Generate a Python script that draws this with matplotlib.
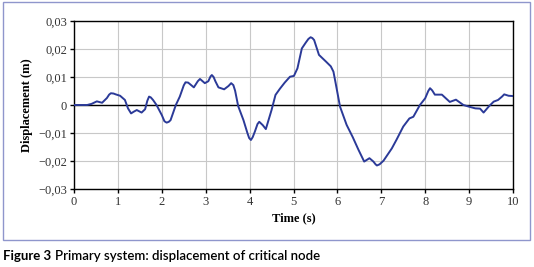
import matplotlib
matplotlib.use("Agg")
import matplotlib.pyplot as plt
from matplotlib.patches import Rectangle

# Data
time_s = [0.0, 0.15, 0.30, 0.40, 0.52, 0.64, 0.75, 0.80, 0.84, 0.90, 0.95, 1.05, 1.16, 1.23, 1.30,
          1.36, 1.43, 1.54, 1.62, 1.67, 1.71, 1.75, 1.80, 1.88, 2.00, 2.06, 2.11, 2.16, 2.20, 2.32,
          2.41, 2.50, 2.54, 2.60, 2.73, 2.82, 2.87, 2.98, 3.06, 3.11, 3.14, 3.18, 3.22, 3.29, 3.42,
          3.52, 3.58, 3.63, 3.67, 3.74, 3.86, 3.95, 3.99, 4.03, 4.07, 4.12, 4.18, 4.22, 4.30, 4.37,
          4.50, 4.59, 4.69, 4.80, 4.92, 5.01, 5.09, 5.19, 5.28, 5.34, 5.39, 5.43, 5.47, 5.58, 5.74,
          5.85, 5.91, 5.96, 6.06, 6.21, 6.35, 6.48, 6.61, 6.67, 6.73, 6.82, 6.87, 6.90, 6.96, 7.05,
          7.24, 7.35, 7.50, 7.64, 7.73, 7.88, 8.00, 8.07, 8.11, 8.16, 8.22, 8.38, 8.56, 8.70, 8.87,
          9.00, 9.14, 9.25, 9.33, 9.45, 9.56, 9.66, 9.75, 9.80, 9.90, 10.0]
displacement_m = [0.0, 0.0, 0.0, 0.0004, 0.0013, 0.0008, 0.0025, 0.0037, 0.0042, 0.0041, 0.0038, 0.0033, 0.0018, -0.0012, -0.0030,
                  -0.0024, -0.0018, -0.0027, -0.0015, 0.0015, 0.0030, 0.0027, 0.0018, 0.0, -0.0036, -0.0058, -0.0063, -0.0060, -0.0054, 0.0,
                  0.0030, 0.0070, 0.0081, 0.0080, 0.0063, 0.0085, 0.0093, 0.0078, 0.0085, 0.0102, 0.0107, 0.0100, 0.0085, 0.0063, 0.0056,
                  0.0068, 0.0078, 0.0071, 0.0051, -0.0004, -0.0054, -0.0100, -0.0118, -0.0125, -0.0115, -0.0095, -0.0068, -0.0060, -0.0072, -0.0086,
                  -0.0018, 0.0036, 0.0058, 0.0080, 0.0101, 0.0104, 0.0131, 0.0202, 0.0223, 0.0236, 0.0242, 0.0239, 0.0232, 0.0179, 0.0155,
                  0.0138, 0.0119, 0.0078, -0.0006, -0.0071, -0.0115, -0.0160, -0.0202, -0.0196, -0.0190, -0.0202, -0.0212, -0.0216, -0.0212, -0.0199,
                  -0.0155, -0.0123, -0.0077, -0.0048, -0.0042, 0.0, 0.0024, 0.0050, 0.0060, 0.0052, 0.0037, 0.0037, 0.0011, 0.0019, 0.0,
                  -0.0006, -0.0012, -0.0013, -0.0027, -0.0005, 0.0012, 0.0018, 0.0030, 0.0038, 0.0033, 0.0032]

x_ticks = [0, 1, 2, 3, 4, 5, 6, 7, 8, 9, 10]
y_ticks = [-0.03, -0.02, -0.01, 0.0, 0.01, 0.02, 0.03]
y_tick_labels = ["\u22120,03", "\u22120,02", "\u22120,01", "0", "0,01", "0,02", "0,03"]

W, H = 534, 267
fig = plt.figure(figsize=(W / 100, H / 100), dpi=100)
fig.patch.set_facecolor("white")

# outer frame
fig.add_artist(Rectangle((3 / W, 1 - 240 / H), (530 - 3) / W, (240 - 2) / H,
                         transform=fig.transFigure, fill=False,
                         edgecolor="#8f96cc", linewidth=1.0))

ax = fig.add_axes([74 / W, 1 - 189 / H, (513 - 74) / W, (189 - 21) / H])
ax.plot(time_s, displacement_m, color="#2b3a98", linewidth=1.4, zorder=3,
        solid_joinstyle="round")
ax.axhline(0, color="black", linewidth=1.0, zorder=2)

ax.set_xlim(0, 10)
ax.set_ylim(-0.03, 0.03)
ax.set_xticks(x_ticks)
ax.set_xticklabels([str(v) for v in x_ticks])
ax.set_yticks(y_ticks)
ax.set_yticklabels(y_tick_labels)
ax.grid(True, color="#c8c8c8", linewidth=0.8, zorder=0)
ax.set_axisbelow(True)

for s in ax.spines.values():
    s.set_color("black")
    s.set_linewidth(1.0)

serif = ["Liberation Serif", "DejaVu Serif"]
ax.tick_params(axis="both", direction="out", length=3, width=1, colors="black",
               labelsize=9, pad=2)
for lbl in ax.get_xticklabels() + ax.get_yticklabels():
    lbl.set_family(serif)
    lbl.set_color("#333333")

ax.set_xlabel("Time (s)", fontsize=9, fontweight="bold", family=serif, labelpad=3)
ax.set_ylabel("Displacement (m)", fontsize=9, fontweight="bold", family=serif, labelpad=4)

sans = ["Lato", "DejaVu Sans"]
t1 = fig.text(3 / W, 1 - 256 / H, "Figure 3", fontsize=9.5, fontweight="bold",
              family=sans, va="center", ha="left")
fig.canvas.draw()
bb = t1.get_window_extent(fig.canvas.get_renderer())
fig.text((bb.x1 + 4) / W, 1 - 256 / H, "Primary system: displacement of critical node",
         fontsize=9.5, fontweight="semibold", family=sans, va="center", ha="left")

fig.savefig("out.png", dpi=100)
